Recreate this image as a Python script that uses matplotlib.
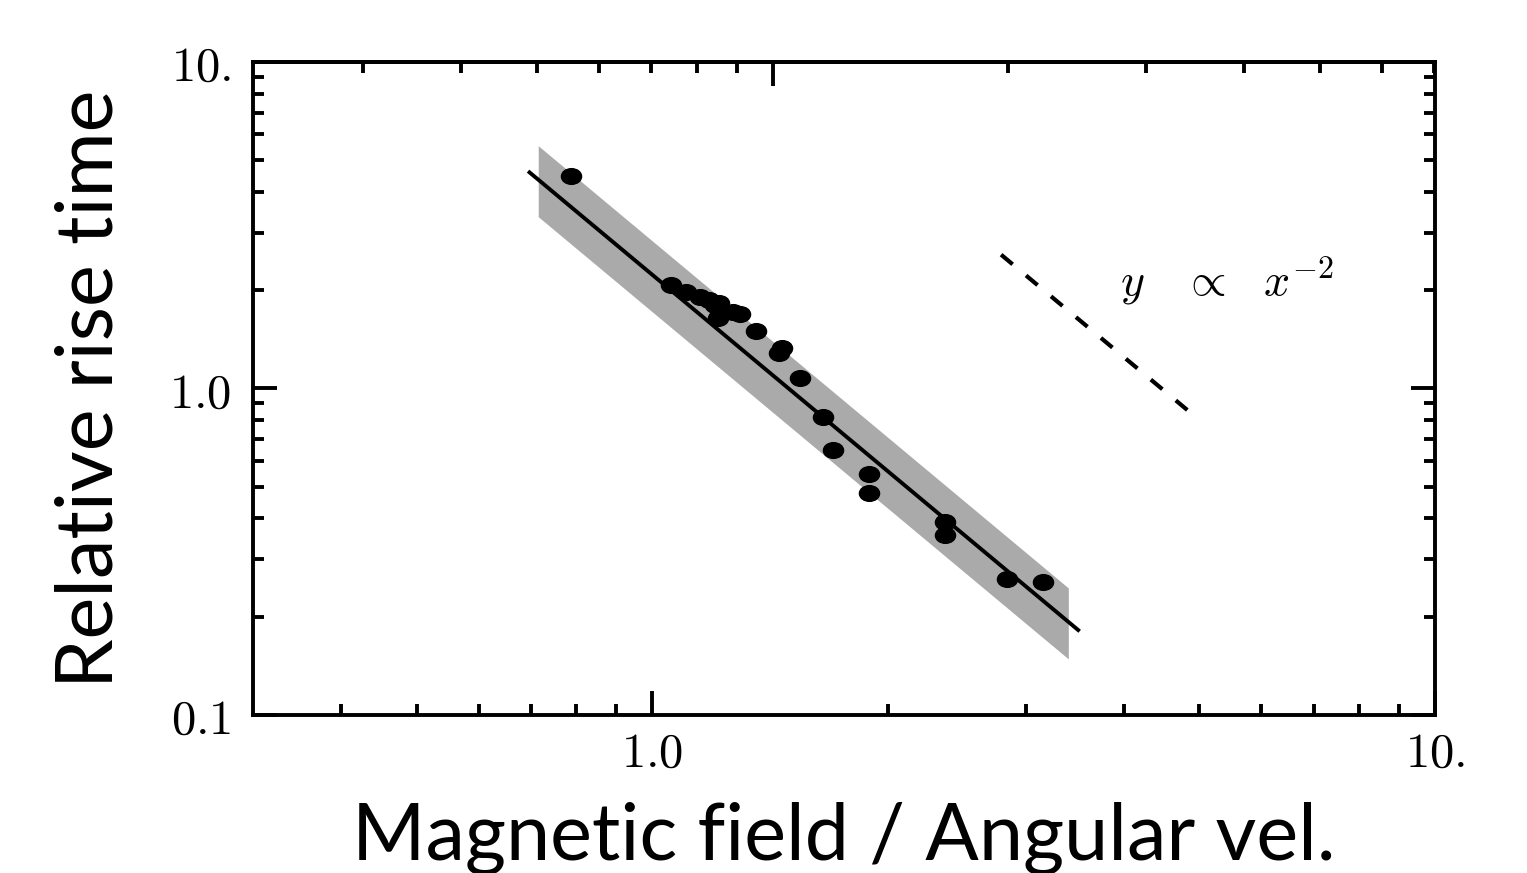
import numpy as np
import matplotlib
matplotlib.use('Agg')
import matplotlib.pyplot as plt
from matplotlib.path import Path
from matplotlib.ticker import FixedLocator, FixedFormatter, NullFormatter

plt.rcParams['mathtext.fontset'] = 'cm'

# measured points
fieldRatio = [0.788, 1.057, 1.105, 1.152, 1.183, 1.204, 1.218, 1.214, 1.269, 1.295,
              1.358, 1.453, 1.466, 1.545, 1.653, 1.703, 1.893, 1.893, 2.366, 2.366,
              2.842, 3.157]
riseTime = [4.49, 2.08, 1.97, 1.90, 1.86, 1.80, 1.83, 1.64, 1.72, 1.69,
            1.50, 1.28, 1.33, 1.08, 0.815, 0.650, 0.549, 0.477, 0.391, 0.357,
            0.260, 0.255]

# fit y = A x^-2 and its band
fitAmp = 2.23
fitRange = [0.697, 3.50]
bandRange = [0.715, 3.40]
bandUp = 1.27
bandLow = 0.77

# guide y ~ x^-2
guideAmp = 20.0
guideRange = [2.79, 4.91]

topScale = 7.02

xTicks = [1.0, 10.0]
xTickLabels = ['$1.0$', '$10.$']
yTicks = [0.1, 1.0, 10.0]
yTickLabels = ['$0.1$', '$1.0$', '$10.$']

LW = 2.8


def powerLaw(amp, x):
    return amp * np.asarray(x) ** -2.0


fig = plt.figure(figsize=(15.27, 8.73), dpi=100)
ax = fig.add_axes([0.1657, 0.181, 0.7741, 0.748])
ax.set_xscale('log')
ax.set_yscale('log')
ax.set_xlim(0.309, 10)
ax.set_ylim(0.1, 10)

xb = np.geomspace(bandRange[0], bandRange[1], 50)
ax.fill_between(xb, powerLaw(fitAmp, xb) * bandLow, powerLaw(fitAmp, xb) * bandUp,
                color='#aaaaaa', linewidth=0, zorder=1)

xf = np.geomspace(fitRange[0], fitRange[1], 50)
ax.plot(xf, powerLaw(fitAmp, xf), color='black', lw=LW, zorder=2)

xg = np.geomspace(guideRange[0], guideRange[1], 50)
ax.plot(xg, powerLaw(guideAmp, xg), color='black', lw=3.0, linestyle=(0, (3.6, 4.2)), zorder=2)

# slightly wide dots
circ = Path.unit_circle()
ellipse = Path(circ.vertices * np.array([1.0, 0.78]), circ.codes)
ax.plot(fieldRatio, riseTime, linestyle='none', marker=ellipse, markersize=14.5,
        color='black', zorder=3)

ax.text(3.96, 2.14, r'$y\quad\propto\;\;\,x^{-2}$', fontsize=33, va='center', ha='left')

# ticks
ax.xaxis.set_major_locator(FixedLocator(xTicks))
ax.xaxis.set_major_formatter(FixedFormatter(xTickLabels))
ax.xaxis.set_minor_locator(FixedLocator([0.4, 0.5, 0.6, 0.7, 0.8, 0.9, 2, 3, 4, 5, 6, 7, 8, 9]))
ax.xaxis.set_minor_formatter(NullFormatter())
ax.yaxis.set_major_locator(FixedLocator(yTicks))
ax.yaxis.set_major_formatter(FixedFormatter(yTickLabels))
ax.yaxis.set_minor_locator(FixedLocator([0.2, 0.3, 0.4, 0.5, 0.6, 0.7, 0.8, 0.9,
                                         2, 3, 4, 5, 6, 7, 8, 9]))
ax.yaxis.set_minor_formatter(NullFormatter())
ax.tick_params(which='both', direction='in', width=LW, labelsize=35)
ax.tick_params(axis='x', which='both', top=False, bottom=True, pad=10)
ax.tick_params(axis='y', which='both', left=True, right=True, pad=16)
ax.tick_params(which='major', length=17)
ax.tick_params(which='minor', length=8)
for sp in ax.spines.values():
    sp.set_linewidth(LW)

# top axis uses a rescaled x
secAx = ax.secondary_xaxis('top', functions=(lambda x: x * topScale, lambda x: x / topScale))
secAx.xaxis.set_major_locator(FixedLocator([10]))
secAx.xaxis.set_minor_locator(FixedLocator([3, 4, 5, 6, 7, 8, 9, 20, 30, 40, 50, 60, 70]))
secAx.xaxis.set_major_formatter(NullFormatter())
secAx.xaxis.set_minor_formatter(NullFormatter())
secAx.tick_params(which='both', direction='in', width=LW)
secAx.tick_params(which='major', length=17)
secAx.tick_params(which='minor', length=8)
secAx.spines['top'].set_linewidth(LW)

ax.set_xlabel('Magnetic field / Angular vel.', fontsize=57, family='Lato', labelpad=18)
ax.set_ylabel('Relative rise time', fontsize=57, family='Lato', labelpad=30)

fig.savefig('out.png', dpi=100)
